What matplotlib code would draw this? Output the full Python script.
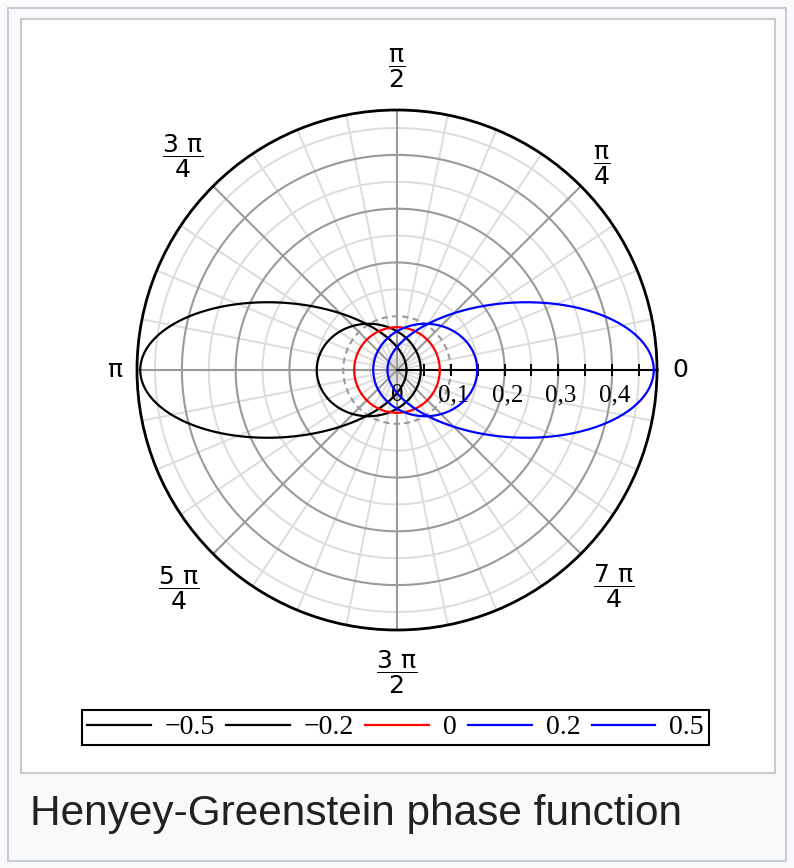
import numpy as np
import matplotlib.pyplot as plt
from matplotlib.patches import Rectangle

# asymmetry parameters shown in the legend
g_values = [-0.5, -0.2, 0.0, 0.2, 0.5]
g_labels = ['\u22120.5', '\u22120.2', '0', '0.2', '0.5']
g_colors = ['black', 'black', 'red', 'blue', 'blue']

r_labels = ['0,1', '0,2', '0,3', '0,4']
r_ticks = [0.1, 0.2, 0.3, 0.4]
angle_labels = [r'$\dfrac{\pi}{4}$', r'$\dfrac{\pi}{2}$', r'$\dfrac{3\ \pi}{4}$', r'$\pi$',
                r'$\dfrac{5\ \pi}{4}$', r'$\dfrac{3\ \pi}{2}$', r'$\dfrac{7\ \pi}{4}$', r'$0$']
angle_pos = [np.pi/4, np.pi/2, 3*np.pi/4, np.pi, 5*np.pi/4, 3*np.pi/2, 7*np.pi/4, 0.0]
caption = 'Henyey-Greenstein phase function'

plt.rcParams['mathtext.fontset'] = 'custom'
plt.rcParams['mathtext.rm'] = 'DejaVu Sans'
plt.rcParams['mathtext.it'] = 'DejaVu Sans'


def henyey_greenstein(theta, g):
    return (1 - g**2) / (4*np.pi*(1 + g**2 - 2*g*np.cos(theta))**1.5)


fig = plt.figure(figsize=(7.94, 8.68), dpi=100)
fig.patch.set_facecolor('#f8f9fa')
W, H = 794, 868
fig.patches.append(Rectangle((8/W, 1 - 861/H), 778/W, 853/H, transform=fig.transFigure,
                             facecolor='#f8f9fa', edgecolor='#c8ccd1', lw=1.5, zorder=-3))
fig.patches.append(Rectangle((21/W, 1 - 773/H), 754/W, 754/H, transform=fig.transFigure,
                             facecolor='white', edgecolor='#c8ccd1', lw=1.5, zorder=-2))

rmax = 0.4835
ax = fig.add_axes([(397-260)/W, (H-630)/H, 520/W, 520/H], projection='polar')
ax.set_facecolor('none')
ax.set_ylim(0, rmax)
ax.grid(False)
ax.set_yticks([])
ax.set_xticks(np.arange(32) * np.pi/16)
ax.set_xticklabels([])
ax.tick_params(axis='x', direction='inout', length=9, width=1.4, color='black')
ax.spines['polar'].set_linewidth(2)

# grid
t = np.linspace(0, 2*np.pi, 721)
for r in [0.05, 0.15, 0.25, 0.35, 0.45]:
    ax.plot(t, np.full_like(t, r), color='#dcdcdc', lw=1.4, zorder=1)
for k in range(32):
    if k % 4:
        ax.plot([k*np.pi/16]*2, [0, rmax], color='#dcdcdc', lw=1.4, zorder=1)
for r in [0.2, 0.3, 0.4]:
    ax.plot(t, np.full_like(t, r), color='#9a9a9a', lw=1.5, zorder=2)
ax.plot(t, np.full_like(t, 0.1), color='#9a9a9a', lw=1.5, ls=(0, (3, 2)), zorder=2)
for k in range(8):
    if k != 0:
        ax.plot([k*np.pi/4]*2, [0, rmax], color='#9a9a9a', lw=1.5, zorder=2)

# radial axis along theta = 0
ax.plot([0, 0], [0, rmax], color='black', lw=1.5, zorder=3)
ax.plot(np.zeros(9), np.arange(1, 10)*0.05, ls='none', marker='|', ms=8, mew=1.4,
        color='black', zorder=3)
for r, lab in zip(r_ticks, r_labels):
    ax.annotate(lab, xy=(0, r), xytext=(2, -18), textcoords='offset points',
                ha='center', va='center', family='Liberation Serif', fontsize=18)
ax.annotate('0', xy=(0, 0), xytext=(0, -18), textcoords='offset points',
            ha='center', va='center', family='Liberation Serif', fontsize=18)

# curves
for g, c, lab in zip(g_values, g_colors, g_labels):
    ax.plot(t, henyey_greenstein(t, g), color=c, lw=1.6, label=lab, zorder=4)

# angle labels (distance from centre in pixels)
label_px = [290, 302, 303, 282, 309, 302, 306, 283]
for a, lab, px in zip(angle_pos, angle_labels, label_px):
    ax.text(a, px/260*rmax, lab, ha='center', va='center', fontsize=18, clip_on=False)

leg = fig.legend(loc='center', bbox_to_anchor=(395.5/W, 1 - 727.5/H), ncol=5,
                 frameon=True, fancybox=False, edgecolor='black', framealpha=1,
                 prop={'family': 'Liberation Serif', 'size': 20},
                 handlelength=2.3, handletextpad=0.5, columnspacing=0.4,
                 borderpad=0.17, borderaxespad=0)
leg.get_frame().set_linewidth(1.5)

fig.text(30/W, 1 - 814/H, caption, ha='left', va='center', fontsize=30.5,
         family='Liberation Sans', color='#202122')

fig.savefig('out.png', dpi=100, facecolor=fig.get_facecolor())
